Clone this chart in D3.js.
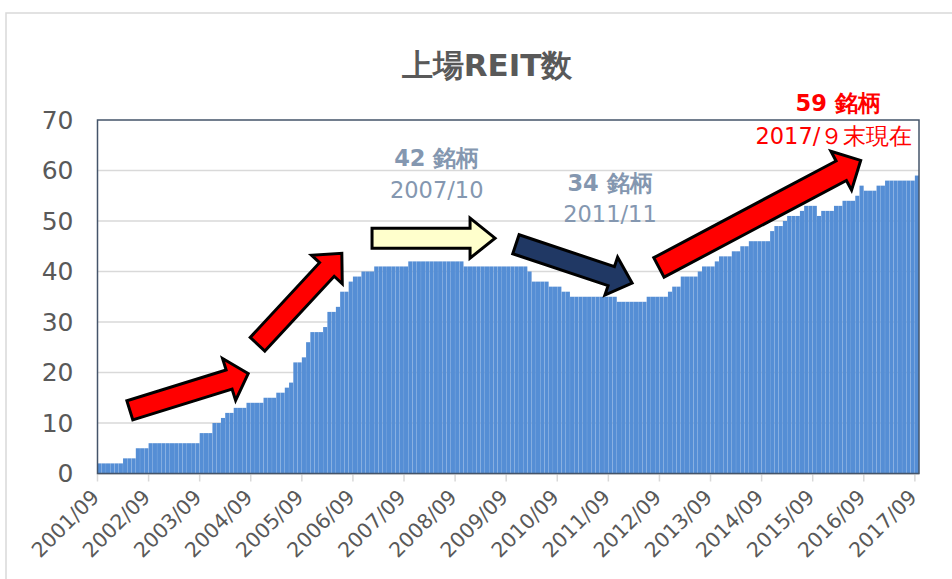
<!DOCTYPE html>
<html lang="ja">
<head>
<meta charset="UTF-8">
<title>上場REIT数</title>
<script src="https://cdn.jsdelivr.net/npm/d3@7"></script>
<style>
  body { margin: 0; background: #fff; }
  svg text { font-family: "DejaVu Sans", Verdana, sans-serif; }
</style>
</head>
<body>
<script>
// 月末の上場REIT数 2001/09 〜 2017/09
var firstMonth = new Date(2001, 8, 1);
var lastMonth = new Date(2017, 8, 1);
var counts = [
  2, 2, 2, 2, 2, 2, 3, 3, 3, 5, 5, 5,
  6, 6, 6, 6, 6, 6, 6, 6, 6, 6, 6, 6,
  8, 8, 8, 10, 10, 11, 12, 12, 13, 13, 13, 14,
  14, 14, 14, 15, 15, 15, 16, 16, 17, 18, 22, 22,
  23, 26, 28, 28, 28, 29, 32, 32, 33, 36, 36, 38,
  39, 39, 40, 40, 40, 41, 41, 41, 41, 41, 41, 41,
  41, 42, 42, 42, 42, 42, 42, 42, 42, 42, 42, 42,
  42, 42, 41, 41, 41, 41, 41, 41, 41, 41, 41, 41,
  41, 41, 41, 41, 41, 40, 38, 38, 38, 38, 37, 37,
  37, 36, 36, 35, 35, 35, 35, 35, 35, 35, 35, 35,
  35, 35, 34, 34, 34, 34, 34, 34, 34, 35, 35, 35,
  35, 35, 36, 37, 37, 39, 39, 39, 39, 40, 41, 41,
  41, 42, 43, 43, 43, 44, 44, 45, 45, 46, 46, 46,
  46, 46, 48, 49, 49, 50, 51, 51, 51, 52, 53, 53,
  53, 51, 52, 52, 52, 53, 53, 54, 54, 54, 55, 57,
  56, 56, 56, 57, 57, 58, 58, 58, 58, 58, 58, 58,
  59
];
var tickLabels = ["2001/09", "2002/09", "2003/09", "2004/09", "2005/09", "2006/09",
  "2007/09", "2008/09", "2009/09", "2010/09", "2011/09", "2012/09", "2013/09",
  "2014/09", "2015/09", "2016/09", "2017/09"];
var yTicks = [0, 10, 20, 30, 40, 50, 60, 70];

// 矢印 (月の位置, 銘柄数の位置)
var arrows = [
  {from: [7.6, 12.5], to: [35.4, 19.8], shaft: 10, head: 22, len: 20, fill: "#FF0000"},
  {from: [37.6, 25.6], to: [57.4, 43.6], shaft: 10, head: 21, len: 22, fill: "#FF0000"},
  {from: [64.5, 46.6], to: [93.4, 46.6], shaft: 10, head: 20, len: 25, fill: "#FFFFCC"},
  {from: [98.3, 45.4], to: [125.6, 37.7], shaft: 10, head: 20, len: 22, fill: "#203864"},
  {from: [131.9, 40.8], to: [179.3, 62.0], shaft: 11, head: 22, len: 22, fill: "#FF0000"}
];
var notes = [
  {at: [79.7, 60.8], text: "42 銘柄", bold: true, color: "#8497B0"},
  {at: [79.7, 54.6], text: "2007/10", bold: false, color: "#8497B0"},
  {at: [120.4, 56.0], text: "34 銘柄", bold: true, color: "#8497B0"},
  {at: [120.4, 49.9], text: "2011/11", bold: false, color: "#8497B0"},
  {at: [174, 71.8], text: "59 銘柄", bold: true, color: "#FF0000"},
  {at: [173, 65.3], text: "2017/９末現在", bold: false, color: "#FF0000"}
];

var width = 952, height = 579;
var plotLeft = 97.5, plotRight = 919, plotTop = 120, plotBottom = 473.5;

var months = d3.timeMonth.range(firstMonth, d3.timeMonth.offset(lastMonth, 1));
var fmt = d3.timeFormat("%Y/%m");
var data = months.map(function(m, i) { return {month: fmt(m), value: counts[i]}; });

var svg = d3.select("body").append("svg")
    .attr("width", width)
    .attr("height", height);

// 外枠
svg.append("rect")
    .attr("x", 6).attr("y", 13)
    .attr("width", 960).attr("height", 600)
    .attr("fill", "none")
    .attr("stroke", "#D9D9D9")
    .attr("stroke-width", 1.5);

svg.append("text")
    .attr("x", 487).attr("y", 76)
    .attr("text-anchor", "middle")
    .attr("font-size", 31)
    .attr("font-weight", "bold")
    .attr("fill", "#595959")
    .text("上場REIT数");

var x = d3.scaleBand()
    .domain(data.map(function(d) { return d.month; }))
    .range([plotLeft, plotRight])
    .paddingInner(0.03);
var xIdx = d3.scaleLinear().domain([0, counts.length]).range([plotLeft, plotRight]);
var y = d3.scaleLinear().domain([0, 70]).range([plotBottom, plotTop]);

// 目盛線
svg.append("g")
    .selectAll("line")
    .data(yTicks.slice(1, -1))
    .enter()
    .append("line")
    .attr("x1", plotLeft).attr("x2", plotRight)
    .attr("y1", function(d) { return y(d); })
    .attr("y2", function(d) { return y(d); })
    .attr("stroke", "#D9D9D9")
    .attr("stroke-width", 1.5);

svg.append("g")
    .selectAll("rect")
    .data(data)
    .enter()
    .append("rect")
    .attr("x", function(d) { return x(d.month); })
    .attr("width", x.bandwidth())
    .attr("y", function(d) { return y(d.value); })
    .attr("height", function(d) { return y(0) - y(d.value); })
    .attr("fill", "#558ED5");

// y軸
var yAxis = svg.append("g")
    .attr("transform", "translate(" + plotLeft + ",0)")
    .call(d3.axisLeft(y).tickValues(yTicks).tickSize(0).tickPadding(24));
yAxis.select(".domain").remove();
yAxis.selectAll("text")
    .attr("font-size", 25)
    .attr("fill", "#595959");

// x軸
var xAxis = svg.append("g");
xAxis.append("line")
    .attr("x1", plotLeft).attr("x2", plotRight)
    .attr("y1", plotBottom + 0.5).attr("y2", plotBottom + 0.5)
    .attr("stroke", "#D9D9D9")
    .attr("stroke-width", 1.5);
xAxis.selectAll("line.tick")
    .data(tickLabels)
    .enter()
    .append("line")
    .attr("class", "tick")
    .attr("x1", function(d) { return x(d); })
    .attr("x2", function(d) { return x(d); })
    .attr("y1", plotBottom).attr("y2", plotBottom + 8)
    .attr("stroke", "#D9D9D9")
    .attr("stroke-width", 1.5);
xAxis.selectAll("text")
    .data(tickLabels)
    .enter()
    .append("text")
    .attr("transform", function(d) {
      return "translate(" + (x(d) + 3) + "," + (plotBottom + 25) + ") rotate(-45)";
    })
    .attr("text-anchor", "end")
    .attr("font-size", 20.5)
    .attr("fill", "#595959")
    .text(function(d) { return d; });

// プロットエリア枠
svg.append("rect")
    .attr("x", plotLeft).attr("y", plotTop)
    .attr("width", plotRight - plotLeft).attr("height", plotBottom - plotTop)
    .attr("fill", "none")
    .attr("stroke", "#44546A")
    .attr("stroke-width", 1.5);

function arrowPoints(a) {
  var x1 = xIdx(a.from[0]), y1 = y(a.from[1]);
  var x2 = xIdx(a.to[0]), y2 = y(a.to[1]);
  var dx = x2 - x1, dy = y2 - y1, d = Math.sqrt(dx * dx + dy * dy);
  var ux = dx / d, uy = dy / d, nx = -uy, ny = ux;
  var bx = x2 - ux * a.len, by = y2 - uy * a.len;
  return [
    [x1 + nx * a.shaft, y1 + ny * a.shaft],
    [bx + nx * a.shaft, by + ny * a.shaft],
    [bx + nx * a.head, by + ny * a.head],
    [x2, y2],
    [bx - nx * a.head, by - ny * a.head],
    [bx - nx * a.shaft, by - ny * a.shaft],
    [x1 - nx * a.shaft, y1 - ny * a.shaft]
  ];
}

svg.append("g")
    .selectAll("polygon")
    .data(arrows)
    .enter()
    .append("polygon")
    .attr("points", function(a) { return arrowPoints(a).join(" "); })
    .attr("fill", function(a) { return a.fill; })
    .attr("stroke", "#000")
    .attr("stroke-width", 3)
    .attr("stroke-linejoin", "miter");

svg.append("g")
    .selectAll("text")
    .data(notes)
    .enter()
    .append("text")
    .attr("x", function(d) { return xIdx(d.at[0]); })
    .attr("y", function(d) { return y(d.at[1]); })
    .attr("text-anchor", "middle")
    .attr("font-size", 22.5)
    .attr("font-weight", function(d) { return d.bold ? "bold" : "normal"; })
    .attr("fill", function(d) { return d.color; })
    .text(function(d) { return d.text; });
</script>
</body>
</html>
